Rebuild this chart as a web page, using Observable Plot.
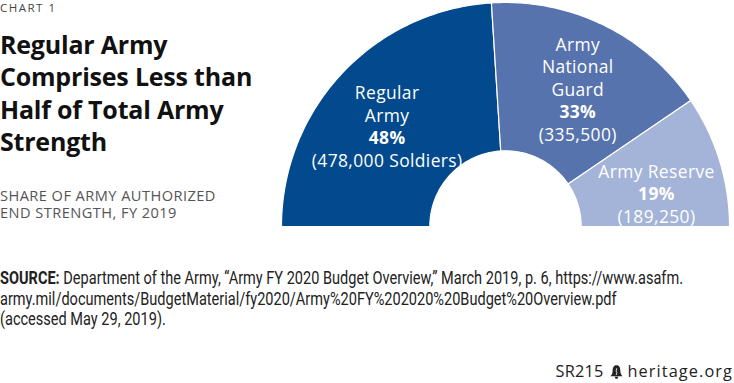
<!DOCTYPE html>
<html><head><meta charset="utf-8">
<script src="https://cdn.jsdelivr.net/npm/d3@7"></script>
<script src="https://cdn.jsdelivr.net/npm/@observablehq/plot@0.6"></script>
<style>
body{margin:0;width:734px;height:383px;position:relative;overflow:hidden;background:#fff;font-family:"Open Sans",sans-serif;}
#kicker{position:absolute;left:0;top:0;font-size:11.5px;line-height:normal;color:#444;letter-spacing:1.5px;white-space:nowrap}
#title{position:absolute;left:0;top:28px;font-size:25px;font-weight:700;line-height:32.3px;color:#111;letter-spacing:-0.2px;white-space:nowrap}
#subtitle{position:absolute;left:0;top:187px;font-size:14.6px;line-height:17px;color:#555;white-space:nowrap;letter-spacing:0.45px}
#chart{position:absolute;left:276px;top:0}
#source{position:absolute;left:0;top:268px;font-family:Roboto,sans-serif;font-size:18px;line-height:20.5px;color:#222;white-space:nowrap;transform-origin:0 0}
#source span{display:block;width:max-content}
#source b{font-weight:700}
#footer{position:absolute;right:1px;top:360px;font-size:16.3px;color:#222;white-space:nowrap}
#footer .code{letter-spacing:0.2px}
#footer .site{letter-spacing:1.1px}
#footer svg{vertical-align:-2px;margin:0 5px 0 6px}
</style></head>
<body>
<div id="kicker">CHART 1</div>
<div id="title">Regular Army<br>Comprises Less than<br>Half of Total Army<br>Strength</div>
<div id="subtitle">SHARE OF ARMY AUTHORIZED<br>END STRENGTH, FY 2019</div>
<div id="chart"></div>
<div id="source"><span id="src1"><b>SOURCE:</b> Department of the Army, “Army FY 2020 Budget Overview,” March 2019, p. 6, https://www.asafm.</span><span>army.mil/documents/BudgetMaterial/fy2020/Army%20FY%202020%20Budget%20Overview.pdf</span><span>(accessed May 29, 2019).</span></div>
<div id="footer"><span class="code">SR215</span><svg width="13" height="14" viewBox="0 0 12 13"><path d="M6 0.3 C3.1 0.3 2.5 2.6 2.4 5.5 C2.3 8 1.5 9.3 0.3 10.4 L11.7 10.4 C10.5 9.3 9.7 8 9.6 5.5 C9.5 2.6 8.9 0.3 6 0.3 Z M4.4 11 L7.6 11 L7 12.8 L5 12.8 Z" fill="#222"/><path d="M6.3 3 L5.6 5.5 L6.4 7 L5.7 9.3" stroke="#fff" stroke-width="0.8" fill="none"/></svg><span class="site">heritage.org</span></div>
<script>
// ---- data ----
const categories = ["Regular Army", "Army National Guard", "Army Reserve"];
const labelLines = [["Regular", "Army"], ["Army", "National", "Guard"], ["Army Reserve"]];
const shares = [48, 33, 19];
const soldiers = [478000, 335500, 189250];
const countSuffix = [" Soldiers", "", ""];
const colors = ["#024a8d", "#5673ad", "#a4b3d8"];

// ---- geometry ----
const R = 225, r0 = 76, labelR = 155, spread = 1.07, lineH = 22.6;
const total = d3.sum(shares);
const fmt = d3.format(",");
const polys = [];
const labels = [];
let acc = 0;
categories.forEach((c, i) => {
  const t0 = Math.PI * (1 - acc / total);
  acc += shares[i];
  const t1 = Math.PI * (1 - acc / total);
  const steps = 80;
  const pts = [];
  for (let k = 0; k <= steps; k++) { const t = t0 + (t1 - t0) * k / steps; pts.push([R * Math.cos(t), R * Math.sin(t)]); }
  for (let k = steps; k >= 0; k--) { const t = t0 + (t1 - t0) * k / steps; pts.push([r0 * Math.cos(t), r0 * Math.sin(t)]); }
  pts.push(pts[0]);
  pts.forEach(([x, y]) => polys.push({cat: c, x, y}));
  const tm = Math.PI / 2 + ((t0 + t1) / 2 - Math.PI / 2) * spread;
  const cx = labelR * Math.cos(tm), cy = labelR * Math.sin(tm);
  const lines = [...labelLines[i].map(s => ({s, bold: false})), {s: shares[i] + "%", bold: true}, {s: "(" + fmt(soldiers[i]) + countSuffix[i] + ")", bold: false}];
  const n = lines.length;
  lines.forEach((l, j) => labels.push({x: cx, y: cy - (j - (n - 1) / 2) * lineH, text: l.s, bold: l.bold}));
});

const chart = Plot.plot({
  width: 460, height: 232,
  margin: 0,
  x: {domain: [-230, 230], axis: null},
  y: {domain: [-5, 227], axis: null},
  color: {domain: categories, range: colors},
  style: {fontFamily: "Open Sans, sans-serif", background: "transparent", letterSpacing: "0.4px"},
  marks: [
    Plot.line(polys, {x: "x", y: "y", z: "cat", fill: "cat", stroke: "white", strokeWidth: 1.2, curve: "linear"}),
    Plot.text(labels.filter(d => !d.bold), {x: "x", y: "y", text: "text", fill: "white", fontSize: 17.5, fontWeight: 400}),
    Plot.text(labels.filter(d => d.bold), {x: "x", y: "y", text: "text", fill: "white", fontSize: 17.5, fontWeight: 700})
  ]
});
document.getElementById("chart").appendChild(chart);

// fit the condensed source note to the reference width
const src = document.getElementById("source");
const w1 = document.getElementById("src1").getBoundingClientRect().width;
src.style.transform = `scaleX(${683 / w1})`;
</script>
</body></html>
